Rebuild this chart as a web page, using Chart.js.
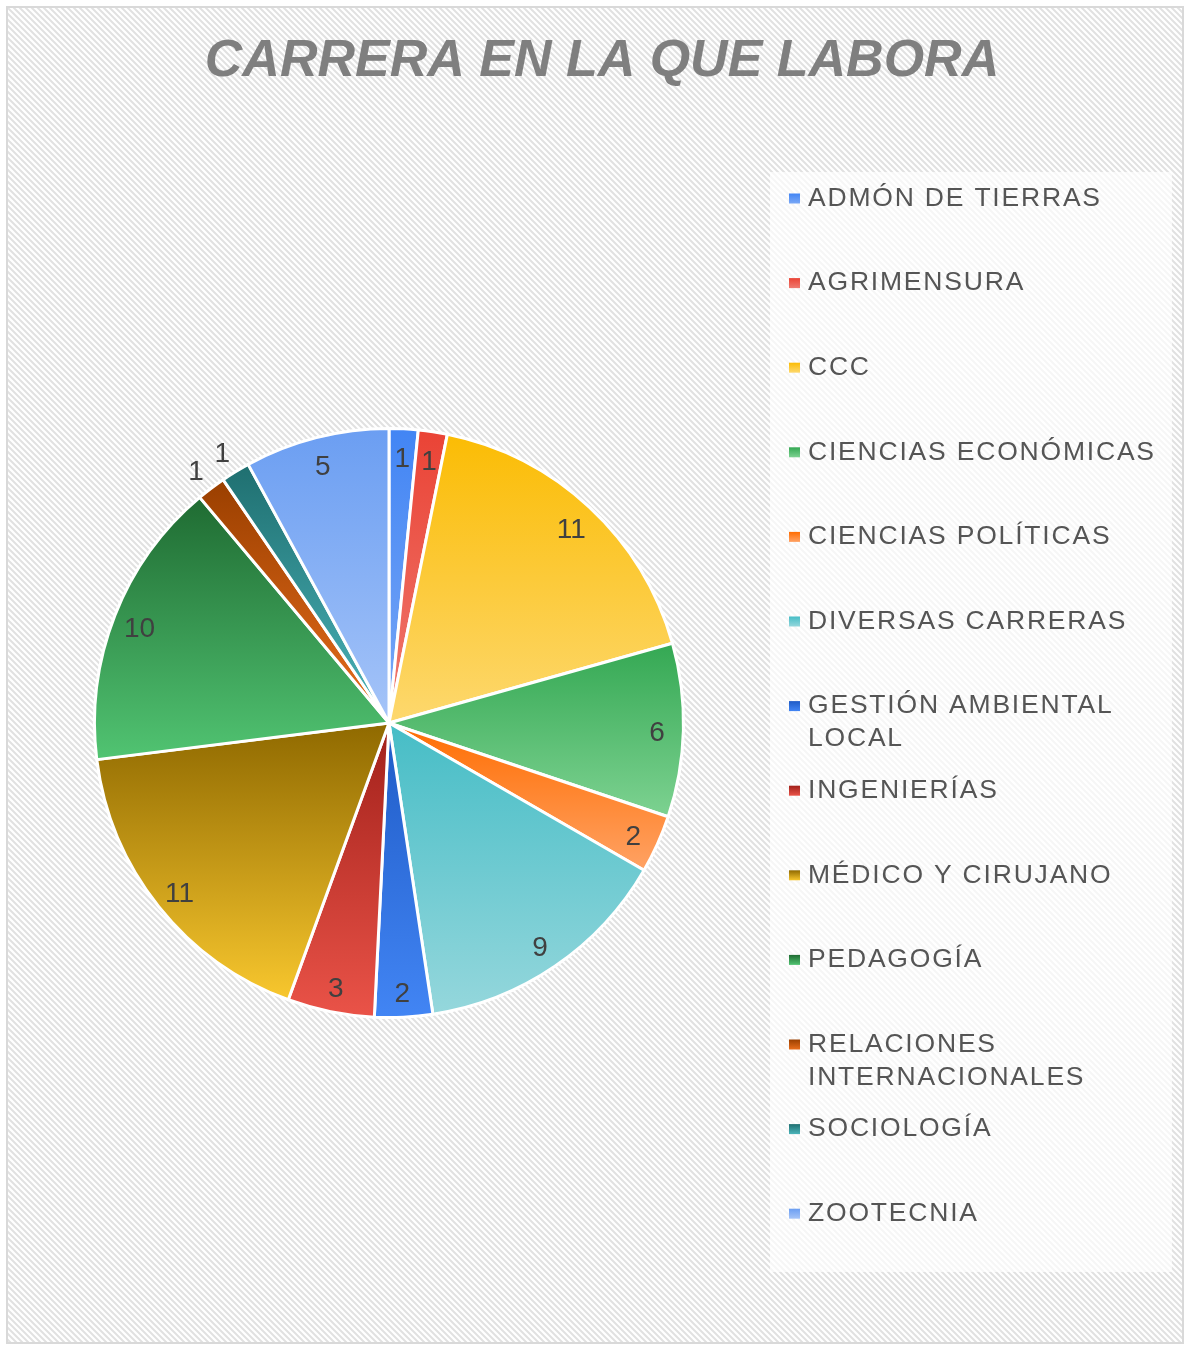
<!DOCTYPE html>
<html>
<head>
<meta charset="utf-8">
<title>Carrera en la que labora</title>
<script src="https://cdn.jsdelivr.net/npm/chart.js@4.4.0/dist/chart.umd.min.js"></script>
<style>
  html, body { margin: 0; padding: 0; background: #fff; }
  #frame {
    position: absolute; left: 6px; top: 6px; width: 1178px; height: 1338px;
    box-sizing: border-box; border: 2px solid #d9d9d9;
    background-color: #fff;
    background-image: url("data:image/svg+xml;utf8,<svg xmlns='http://www.w3.org/2000/svg' width='6' height='6'><path d='M-1,-1 L7,7 M-1,5 L1,7 M5,-1 L7,1' stroke='%23e1e1e1' stroke-width='2'/></svg>");
    background-size: 6px 6px;
  }
  #wrap { position: absolute; left: 0; top: 0; width: 1186px; height: 1346px; }
</style>
</head>
<body>
<div id="frame"></div>
<div id="wrap"><canvas id="pie"></canvas></div>
<script>
// Chart data
const chartTitle = 'CARRERA EN LA QUE LABORA';
const careers = [
  'ADMÓN DE TIERRAS', 'AGRIMENSURA', 'CCC', 'CIENCIAS ECONÓMICAS', 'CIENCIAS POLÍTICAS',
  'DIVERSAS CARRERAS', 'GESTIÓN AMBIENTAL LOCAL', 'INGENIERÍAS', 'MÉDICO Y CIRUJANO',
  'PEDAGOGÍA', 'RELACIONES INTERNACIONALES', 'SOCIOLOGÍA', 'ZOOTECNIA'
];
const counts = [1, 1, 11, 6, 2, 9, 2, 3, 11, 10, 1, 1, 5];

// Slice gradient colours (top of slice -> bottom of slice)
const topColors = [
  '#4285f4', '#ea4335', '#fbbc04', '#34a853', '#ff6d01', '#46bdc6', '#1f5bc6',
  '#a1201a', '#8f6900', '#1f6b32', '#9a3f00', '#1f6f70', '#6b9ef2'
];
const bottomColors = [
  '#7aa8f6', '#ef7a70', '#fdd86e', '#7dd291', '#ffa264', '#95d7dc', '#4285f4',
  '#ea5348', '#f8c72e', '#51c472', '#e96e1c', '#4cb5bb', '#a5c4f8'
];
// slices whose value label sits outside the pie
const outsideLabels = [10, 11];

const FONT = '"Liberation Sans", Arial, sans-serif';

function arcBox(arc) {
  const p = arc.getProps(['x', 'y', 'startAngle', 'endAngle', 'outerRadius'], true);
  const ys = [p.y, p.y + Math.sin(p.startAngle) * p.outerRadius, p.y + Math.sin(p.endAngle) * p.outerRadius];
  [-Math.PI / 2, Math.PI / 2, 3 * Math.PI / 2].forEach(a => {
    if (a > p.startAngle && a < p.endAngle) ys.push(p.y + Math.sin(a) * p.outerRadius);
  });
  return { p, top: Math.min(...ys), bottom: Math.max(...ys) };
}

// Fill every slice with a vertical gradient over its own extent
const gradientFill = {
  id: 'gradientFill',
  beforeDatasetsDraw(chart) {
    const ctx = chart.ctx;
    chart.getDatasetMeta(0).data.forEach((arc, i) => {
      const box = arcBox(arc);
      const g = ctx.createLinearGradient(0, box.top, 0, box.bottom);
      g.addColorStop(0, topColors[i]);
      g.addColorStop(1, bottomColors[i]);
      arc.options = Object.assign({}, arc.options, { backgroundColor: g });
    });
  }
};

// Value labels near the outer edge of each slice
const sliceLabels = {
  id: 'sliceLabels',
  afterDatasetsDraw(chart) {
    const ctx = chart.ctx;
    ctx.save();
    ctx.font = '28px ' + FONT;
    ctx.fillStyle = '#404040';
    ctx.textAlign = 'center';
    ctx.textBaseline = 'middle';
    chart.getDatasetMeta(0).data.forEach((arc, i) => {
      const p = arc.getProps(['x', 'y', 'startAngle', 'endAngle', 'outerRadius'], true);
      const mid = (p.startAngle + p.endAngle) / 2;
      const r = p.outerRadius * (outsideLabels.includes(i) ? 1.085 : 0.91);
      ctx.fillText(String(chart.data.datasets[0].data[i]), p.x + Math.cos(mid) * r, p.y + Math.sin(mid) * r + 4);
    });
    ctx.restore();
  }
};

function wrapText(ctx, text, maxWidth) {
  const words = text.split(' ');
  const lines = [];
  let line = '';
  words.forEach(w => {
    const test = line ? line + ' ' + w : w;
    if (line && ctx.measureText(test).width > maxWidth) {
      lines.push(line);
      line = w;
    } else {
      line = test;
    }
  });
  if (line) lines.push(line);
  return lines;
}

// Title and right-hand legend panel
const overlay = {
  id: 'overlay',
  afterDraw(chart) {
    const ctx = chart.ctx;
    ctx.save();
    ctx.fillStyle = '#7f7f7f';
    ctx.font = 'italic bold 52px ' + FONT;
    ctx.textAlign = 'center';
    ctx.textBaseline = 'middle';
    ctx.fillText(chartTitle, 602, 62);

    ctx.fillStyle = 'rgba(255,255,255,0.7)';
    ctx.fillRect(770, 172, 402, 1100);

    ctx.font = '26.5px ' + FONT;
    ctx.letterSpacing = '1.8px';
    ctx.textAlign = 'left';
    chart.data.labels.forEach((name, i) => {
      const cy = 198.5 + 84.6 * i;
      const g = ctx.createLinearGradient(0, cy - 5, 0, cy + 5);
      g.addColorStop(0, topColors[i]);
      g.addColorStop(1, bottomColors[i]);
      ctx.fillStyle = g;
      ctx.fillRect(789, cy - 5, 11, 10);
      ctx.fillStyle = '#555555';
      wrapText(ctx, name, 362).forEach((ln, j) => ctx.fillText(ln, 808, cy + j * 33));
    });
    ctx.letterSpacing = '0px';
    ctx.restore();
  }
};

new Chart(document.getElementById('pie'), {
  type: 'pie',
  data: {
    labels: careers,
    datasets: [{
      data: counts,
      backgroundColor: topColors,
      borderColor: '#ffffff',
      borderWidth: 3
    }]
  },
  options: {
    responsive: true,
    maintainAspectRatio: false,
    animation: false,
    events: [],
    layout: { padding: { left: 93, top: 427, right: 501, bottom: 327 } },
    plugins: {
      legend: { display: false },
      tooltip: { enabled: false },
      title: { display: false }
    }
  },
  plugins: [gradientFill, sliceLabels, overlay]
});
</script>
</body>
</html>
